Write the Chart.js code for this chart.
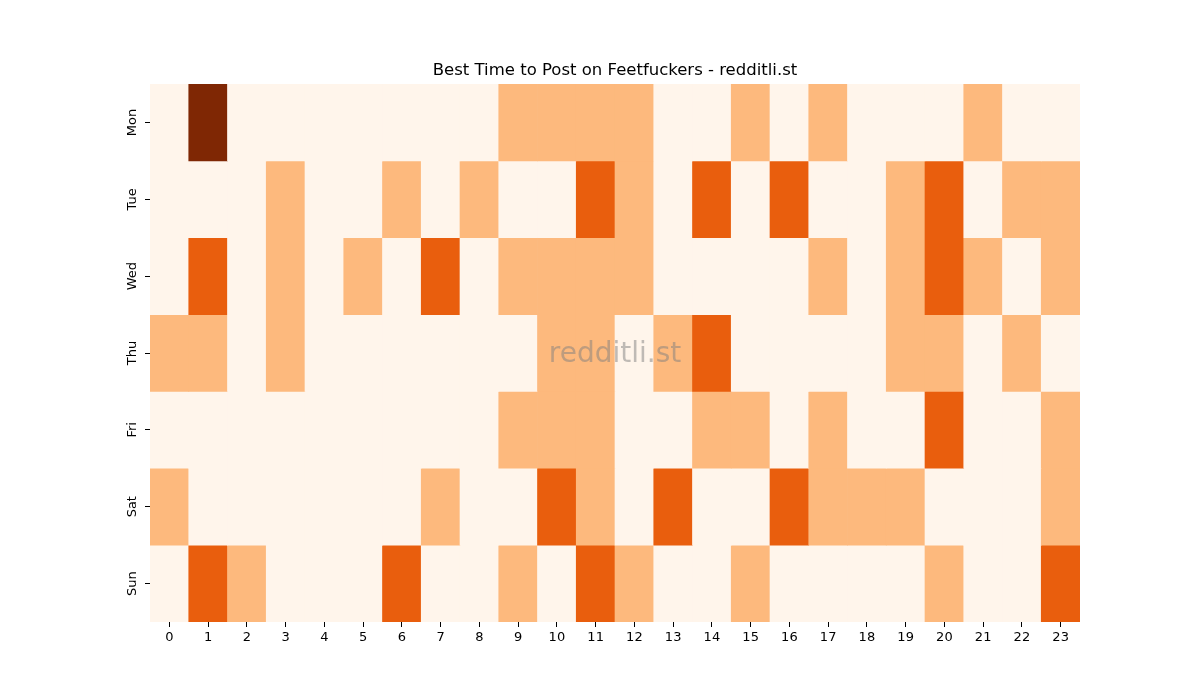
<!DOCTYPE html>
<html>
<head>
<meta charset="utf-8">
<script src="https://cdn.jsdelivr.net/npm/chart.js@4.4.0/dist/chart.umd.min.js"></script>
<style>
html,body{margin:0;padding:0;background:#fff;}
#wrap{width:1200px;height:700px;}
</style>
</head>
<body>
<div id="wrap"><canvas id="c" width="1200" height="700"></canvas></div>
<script>
const titleText = "Best Time to Post on Feetfuckers - redditli.st";
const watermark = "redditli.st";
const days = ["Mon","Tue","Wed","Thu","Fri","Sat","Sun"];
const hours = ["0","1","2","3","4","5","6","7","8","9","10","11","12","13","14","15","16","17","18","19","20","21","22","23"];
// intensity levels per day, hours 0..23
const mon = [0,3,0,0,0,0,0,0,0,1,1,1,1,0,0,1,0,1,0,0,0,1,0,0];
const tue = [0,0,0,1,0,0,1,0,1,0,0,2,1,0,2,0,2,0,0,1,2,0,1,1];
const wed = [0,2,0,1,0,1,0,2,0,1,1,1,1,0,0,0,0,1,0,1,2,1,0,1];
const thu = [1,1,0,1,0,0,0,0,0,0,1,1,0,1,2,0,0,0,0,1,1,0,1,0];
const fri = [0,0,0,0,0,0,0,0,0,1,1,1,0,0,1,1,0,1,0,0,2,0,0,1];
const sat = [1,0,0,0,0,0,0,1,0,0,2,1,0,2,0,0,2,1,1,1,0,0,0,1];
const sun = [0,2,1,0,0,0,2,0,0,1,0,2,1,0,0,1,0,0,0,0,1,0,0,2];
const grid = [mon,tue,wed,thu,fri,sat,sun];
const palette = ["#fff5eb","#fdb97d","#e95e0d","#7f2704"];

const datasets = grid.map((row, i) => ({
  label: days[i],
  data: row.map(() => 1),
  backgroundColor: row.map(l => palette[l]),
  borderWidth: 0,
  barPercentage: 1.0,
  categoryPercentage: 1.0
}));

const overlay = {
  id: 'overlay',
  afterDraw(chart) {
    const ctx = chart.ctx;
    const a = chart.chartArea;
    const ys = chart.scales.y;
    ctx.save();
    ctx.fillStyle = '#000';
    ctx.font = '16.5px "DejaVu Sans"';
    ctx.textAlign = 'center';
    ctx.textBaseline = 'middle';
    ctx.fillText(titleText, (a.left + a.right) / 2, 71);
    // rotated day labels
    ctx.font = '13px "DejaVu Sans"';
    days.forEach((d, i) => {
      const y = ys.getPixelForValue(i + 0.5);
      ctx.save();
      ctx.translate(133, y);
      ctx.rotate(-Math.PI / 2);
      ctx.textAlign = 'center';
      ctx.textBaseline = 'middle';
      ctx.fillText(d, 0, 0);
      ctx.restore();
    });
    ctx.fillStyle = 'rgba(128,128,128,0.5)';
    ctx.font = '28px "DejaVu Sans"';
    ctx.fillText(watermark, (a.left + a.right) / 2, (a.top + a.bottom) / 2 + 2);
    ctx.restore();
  }
};

new Chart(document.getElementById('c'), {
  type: 'bar',
  data: { labels: hours, datasets },
  options: {
    responsive: false,
    animation: false,
    layout: { padding: { top: 84, right: 120, left: 0, bottom: 0 } },
    plugins: { legend: { display: false }, tooltip: { enabled: false }, title: { display: false } },
    scales: {
      x: {
        stacked: true,
        grid: { display: true, drawOnChartArea: false, tickLength: 5, tickColor: '#000', offset: false },
        border: { display: false },
        ticks: { color: '#000', font: { family: 'DejaVu Sans', size: 13 }, padding: 3, maxRotation: 0 },
        afterFit(s) { s.height = 78; }
      },
      y: {
        stacked: true,
        reverse: true,
        min: 0,
        max: 7,
        afterBuildTicks(s) { s.ticks = days.map((d, i) => ({ value: i + 0.5 })); },
        grid: { display: true, drawOnChartArea: false, tickLength: 5, tickColor: '#000' },
        border: { display: false },
        ticks: {
          color: 'rgba(0,0,0,0)',
          font: { family: 'DejaVu Sans', size: 13 },
          padding: 3,
          callback: (v, i) => days[i]
        },
        afterFit(s) { s.width = 150; }
      }
    }
  },
  plugins: [overlay]
});
</script>
</body>
</html>
